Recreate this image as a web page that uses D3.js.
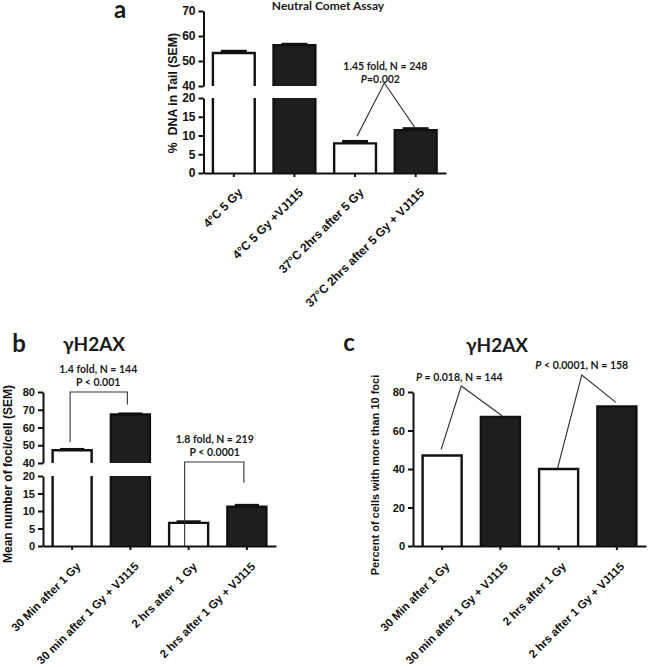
<!DOCTYPE html>
<html>
<head>
<meta charset="utf-8">
<script src="https://cdn.jsdelivr.net/npm/d3@7"></script>
<style>
  html, body { margin: 0; padding: 0; background: #fff; }
  svg { display: block; }
  .tick text { font-family: "Liberation Sans", Arial, sans-serif; font-weight: bold; fill: #111; }
</style>
</head>
<body>
<svg id="chart" width="650" height="667"></svg>
<script>
// ---------- DATA ----------
const catsA = ["4°C 5 Gy", "4°C 5 Gy +VJ115", "37°C 2hrs after 5 Gy", "37°C 2hrs after 5 Gy + VJ115"];
const valsA = [53.2, 56.3, 7.9, 11.4];
const semA  = [0.8, 0.5, 0.6, 0.5];
const ticksALow  = [0, 5, 10, 15, 20];
const ticksAHigh = [40, 50, 60, 70];

const catsB = ["30 Min after 1 Gy", "30 min after 1 Gy + VJ115", "2 hrs after  1 Gy", "2 hrs after 1 Gy + VJ115"];
const valsB = [47.2, 67.3, 6.6, 11.2];
const semB  = [0.6, 0.5, 0.4, 0.5];
const ticksBLow  = [0, 5, 10, 15, 20];
const ticksBHigh = [40, 50, 60, 70, 80];

const catsC = ["30 Min after 1 Gy", "30 min after 1 Gy + VJ115", "2 hrs after 1 Gy", "2 hrs after 1 Gy + VJ115"];
const valsC = [47, 67, 40, 72.5];
const ticksC = [0, 20, 40, 60, 80];

// ---------- DRAW ----------
const svg = d3.select("#chart");
const TICKFONT = '"Liberation Sans", Arial, sans-serif';
const ANNFONT = 'Lato, "Open Sans", sans-serif';

function panel(opt) {
  const g = svg.append("g");
  const x = d3.scaleBand().domain(opt.cats).range([opt.x0, opt.x1])
    .paddingInner(opt.pad).paddingOuter(opt.pad / 2);
  const y0 = opt.low.range()[0];
  const low = opt.low, high = opt.high;
  const breakLow = low.domain()[1];
  const breakHigh = high ? high.domain()[0] : null;
  const yv = v => (high && v >= breakHigh) ? high(v) : low(v);

  // bars
  opt.vals.forEach((v, i) => {
    const left = x(opt.cats[i]), w = x.bandwidth(), right = left + w;
    const fill = i % 2 === 0 ? "#fff" : "#1e1e1e";
    const segs = [];
    if (high && v > breakLow) {
      segs.push({ top: low(breakLow), bot: y0, closedTop: false });
      segs.push({ top: high(v), bot: high(breakHigh), closedTop: true });
    } else {
      segs.push({ top: low(v), bot: y0, closedTop: true });
    }
    segs.forEach(s => {
      g.append("rect").attr("x", left).attr("y", s.top).attr("width", w).attr("height", s.bot - s.top)
        .attr("fill", fill);
      let p = d3.path();
      if (s.closedTop) {
        p.moveTo(left, s.bot); p.lineTo(left, s.top); p.lineTo(right, s.top); p.lineTo(right, s.bot);
      } else {
        p.moveTo(left, s.top); p.lineTo(left, s.bot);
        p.moveTo(right, s.top); p.lineTo(right, s.bot);
      }
      g.append("path").attr("d", p.toString()).attr("fill", "none")
        .attr("stroke", "#111").attr("stroke-width", 2.4);
    });
    if (opt.sem) {
      const cx = left + w / 2, cw = w * 0.62;
      const yt = yv(v + opt.sem[i]);
      g.append("line").attr("x1", cx).attr("x2", cx).attr("y1", yv(v)).attr("y2", yt)
        .attr("stroke", "#111").attr("stroke-width", 2.4);
      g.append("rect").attr("x", cx - cw / 2).attr("y", yt - 1.2).attr("width", cw)
        .attr("height", Math.max(2.4, yv(v) - yt + 1.2)).attr("fill", "#111");
    }
  });

  // y axes
  const styleAxis = sel => {
    sel.selectAll("path.domain").attr("stroke", "#111").attr("stroke-width", 2);
    sel.selectAll(".tick line").attr("stroke", "#111").attr("stroke-width", 2);
    sel.selectAll(".tick text").style("font-size", opt.tickSize + "px").attr("dx", "-1");
  };
  g.append("g").attr("transform", `translate(${opt.x0},0)`)
    .call(d3.axisLeft(low).tickValues(opt.ticksLow).tickSize(5).tickSizeOuter(0).tickPadding(2))
    .call(styleAxis);
  if (high) {
    g.append("g").attr("transform", `translate(${opt.x0},0)`)
      .call(d3.axisLeft(high).tickValues(opt.ticksHigh).tickSize(5).tickSizeOuter(0).tickPadding(2))
      .call(styleAxis);
  }

  // x axis
  const xa = g.append("g").attr("transform", `translate(0,${y0})`)
    .call(d3.axisBottom(x).tickSize(4).tickSizeOuter(0).tickFormat(""));
  xa.select("path.domain").attr("stroke", "#111").attr("stroke-width", 2);
  xa.selectAll(".tick line").attr("stroke", "#111").attr("stroke-width", 2);
  opt.cats.forEach(c => {
    const cx = x(c) + x.bandwidth() / 2;
    g.append("text")
      .attr("transform", `translate(${cx + opt.lblDx},${y0 + opt.lblDy}) rotate(-45)`)
      .attr("text-anchor", "end").attr("dy", "0.75em")
      .style("font-family", TICKFONT).style("font-weight", "bold")
      .style("font-size", opt.lblSize + "px").attr("fill", "#111")
      .attr("xml:space", "preserve")
      .text(c);
  });

  // y label
  g.append("text")
    .attr("transform", `translate(${opt.ylabX},${opt.ylabY}) rotate(-90)`)
    .attr("text-anchor", "middle")
    .style("font-family", TICKFONT).style("font-weight", "bold")
    .style("font-size", opt.ylabSize + "px").attr("fill", "#111")
    .attr("xml:space", "preserve")
    .text(opt.ylab);

  return { g, x, yv };
}

function txt(g, x, y, size, parts, family) {
  const t = g.append("text").attr("x", x).attr("y", y).attr("text-anchor", "middle")
    .style("font-family", family || ANNFONT).style("font-weight", "bold")
    .style("font-size", size + "px").attr("fill", "#1a1a1a").attr("xml:space", "preserve");
  parts.forEach(p => {
    t.append("tspan").style("font-style", p.i ? "italic" : "normal").text(p.t);
  });
  return t;
}
function polyline(g, pts) {
  g.append("path").attr("d", d3.line()(pts)).attr("fill", "none")
    .attr("stroke", "#333").attr("stroke-width", 1.1);
}

// ----- Panel a -----
const A = panel({
  cats: catsA, vals: valsA, sem: semA,
  x0: 203.5, x1: 446, pad: 0.31,
  low: d3.scaleLinear().domain([0, 20]).range([173, 98]),
  high: d3.scaleLinear().domain([40, 70]).range([86, 11]),
  ticksLow: ticksALow, ticksHigh: ticksAHigh, tickSize: 12,
  lblDx: 3, lblDy: 14, lblSize: 12,
  ylab: "%  DNA in Tail (SEM)", ylabX: 177, ylabY: 93, ylabSize: 12.3
});
txt(A.g, 328, 10, 12, [{ t: "Neutral Comet Assay" }]);
txt(A.g, 120, 18, 24, [{ t: "a" }]);
{
  const xa = A.x, c = catsA;
  const c3 = xa(c[2]) + xa.bandwidth() / 2, c4 = xa(c[3]) + xa.bandwidth() / 2;
  const ax = (c3 + c4) / 2;
  polyline(A.g, [[c3 + 2, A.yv(valsA[2] + semA[2]) - 5], [ax - 1, 83], [c4 - 1, A.yv(valsA[3] + semA[3]) - 1]]);
  txt(A.g, ax, 70, 10.5, [{ t: "1.45 fold, N = 248" }]);
  txt(A.g, ax - 5, 83, 10.5, [{ t: "P", i: true }, { t: "=0.002" }]);
}

// ----- Panel b -----
const B = panel({
  cats: catsB, vals: valsB, sem: semB,
  x0: 43, x1: 276, pad: 0.33,
  low: d3.scaleLinear().domain([0, 20]).range([546, 476]),
  high: d3.scaleLinear().domain([40, 80]).range([463, 392]),
  ticksLow: ticksBLow, ticksHigh: ticksBHigh, tickSize: 11,
  lblDx: 3, lblDy: 15, lblSize: 11.5,
  ylab: "Mean number of foci/cell (SEM)", ylabX: 12, ylabY: 474, ylabSize: 12
});
txt(B.g, 19, 352, 24, [{ t: "b" }]);
txt(B.g, 94, 351, 19, [{ t: "γH2AX" }]);
{
  const xb = B.x, c = catsB, bw = xb.bandwidth();
  const c1 = xb(c[0]) + bw / 2, c2 = xb(c[1]) + bw / 2, c3 = xb(c[2]) + bw / 2, c4 = xb(c[3]) + bw / 2;
  polyline(B.g, [[c1 - 2, B.yv(valsB[0]) - 8], [c1 - 2, 392], [c2 - 3, 392], [c2 - 3, B.yv(valsB[1]) - 10]]);
  txt(B.g, (c1 + c2) / 2 - 3, 373, 10.5, [{ t: "1.4 fold, N = 144" }]);
  txt(B.g, (c1 + c2) / 2 - 3, 386, 10.5, [{ t: "P < 0.001" }]);
  polyline(B.g, [[c3 - 4, B.yv(valsB[2]) + 23], [c3 - 4, 462], [c4 - 3, 462], [c4 - 3, B.yv(valsB[3]) - 24]]);
  txt(B.g, (c3 + c4) / 2 - 3, 443, 10.5, [{ t: "1.8 fold, N = 219" }]);
  txt(B.g, (c3 + c4) / 2 - 3, 456, 10.5, [{ t: "P < 0.0001" }]);
}

// ----- Panel c -----
const C = panel({
  cats: catsC, vals: valsC, sem: null,
  x0: 413, x1: 646, pad: 0.33,
  low: d3.scaleLinear().domain([0, 80]).range([546, 392]),
  high: null,
  ticksLow: ticksC, tickSize: 11,
  lblDx: 2, lblDy: 15, lblSize: 11.5,
  ylab: "Percent of cells with more than 10 foci", ylabX: 379, ylabY: 475, ylabSize: 11
});
txt(C.g, 349, 351, 24, [{ t: "c" }]);
txt(C.g, 497, 352, 19, [{ t: "γH2AX" }]);
{
  const xc = C.x, c = catsC, bw = xc.bandwidth();
  const c1 = xc(c[0]) + bw / 2, c2 = xc(c[1]) + bw / 2, c3 = xc(c[2]) + bw / 2, c4 = xc(c[3]) + bw / 2;
  polyline(C.g, [[c1 - 1, C.yv(valsC[0]) - 6], [(c1 + c2) / 2 - 10, 386], [c2 + 2, C.yv(valsC[1]) - 1]]);
  txt(C.g, (c1 + c2) / 2 - 12, 381, 10.5, [{ t: "P", i: true }, { t: " = 0.018, N = 144" }]);
  polyline(C.g, [[c3 - 1, C.yv(valsC[2]) - 1], [(c3 + c4) / 2 - 6, 375], [c4 - 1, C.yv(valsC[3]) - 4]]);
  txt(C.g, (c3 + c4) / 2 - 6, 369, 10.5, [{ t: "P", i: true }, { t: " < 0.0001, N = 158" }]);
}
</script>
</body>
</html>
